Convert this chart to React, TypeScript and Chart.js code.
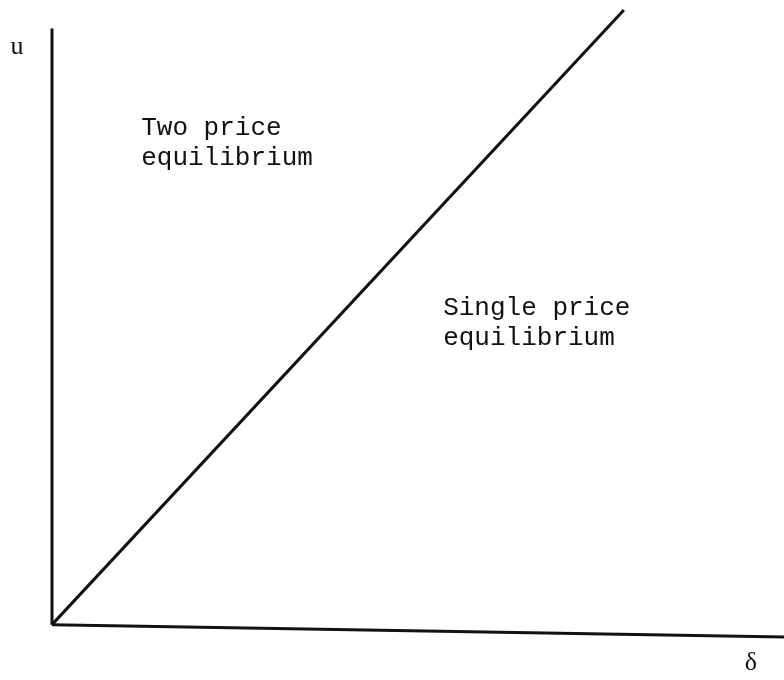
import React, { useEffect, useRef } from "react";
import { Chart, registerables } from "chart.js";

Chart.register(...registerables);

// Boundary between regimes: u = delta
const boundaryDelta = [0, 1];
const boundaryU = [0, 1];

// Axes
const yAxisDelta = [0, 0];
const yAxisU = [0, 0.97];
const xAxisDelta = [0, 1.28];
const xAxisU = [0, -0.02];

// Text labels (data coordinates, left/baseline anchored)
const regionTexts = [
  ["Two price", "equilibrium"],
  ["Single price", "equilibrium"],
];
const regionDelta = [0.156, 0.684];
const regionU = [0.797, 0.504];

const axisLabels = ["u", "δ"];
const axisLabelDelta = [-0.061, 1.222];
const axisLabelU = [0.94, -0.062];

const toPts = (xs: number[], ys: number[]) => xs.map((x, i) => ({ x, y: ys[i] }));

const textPlugin = {
  id: "textPlugin",
  afterDatasetsDraw(chart: any) {
    const { ctx, scales } = chart;
    const xs = scales.x;
    const ys = scales.y;
    ctx.save();
    ctx.fillStyle = "#111";
    ctx.font = "26px 'Liberation Mono', monospace";
    ctx.textAlign = "left";
    ctx.textBaseline = "alphabetic";
    regionTexts.forEach((lines, i) => {
      const px = xs.getPixelForValue(regionDelta[i]);
      const py = ys.getPixelForValue(regionU[i]);
      lines.forEach((ln, j) => ctx.fillText(ln, px, py + j * 30));
    });
    ctx.textAlign = "center";
    ctx.textBaseline = "middle";
    ctx.font = "26px 'Liberation Serif', serif";
    axisLabels.forEach((t, i) => {
      ctx.fillText(t, xs.getPixelForValue(axisLabelDelta[i]), ys.getPixelForValue(axisLabelU[i]));
    });
    ctx.restore();
  },
};

export default function App() {
  const ref = useRef<HTMLCanvasElement>(null);
  useEffect(() => {
    if (!ref.current) return;
    const common = {
      showLine: true,
      pointRadius: 0,
      borderColor: "#111",
      borderWidth: 3,
      clip: false as any,
      fill: false,
      tension: 0,
    };
    const chart = new Chart(ref.current, {
      type: "scatter",
      data: {
        datasets: [
          { ...common, data: toPts(boundaryDelta, boundaryU) },
          { ...common, data: toPts(yAxisDelta, yAxisU) },
          { ...common, data: toPts(xAxisDelta, xAxisU) },
        ],
      },
      options: {
        animation: false,
        responsive: false,
        maintainAspectRatio: false,
        layout: { padding: { left: 52, top: 10, right: 0, bottom: 40 } },
        scales: {
          x: { type: "linear", min: 0, max: 1.28, display: false },
          y: { type: "linear", min: -0.025, max: 1, display: false },
        },
        plugins: { legend: { display: false }, tooltip: { enabled: false } },
      },
      plugins: [textPlugin],
    });
    return () => chart.destroy();
  }, []);
  return (
    <div style={{ position: "absolute", left: 0, top: 0, width: 784, height: 680, background: "#fff" }}>
      <canvas ref={ref} width={784} height={680} style={{ width: 784, height: 680 }} />
    </div>
  );
}
